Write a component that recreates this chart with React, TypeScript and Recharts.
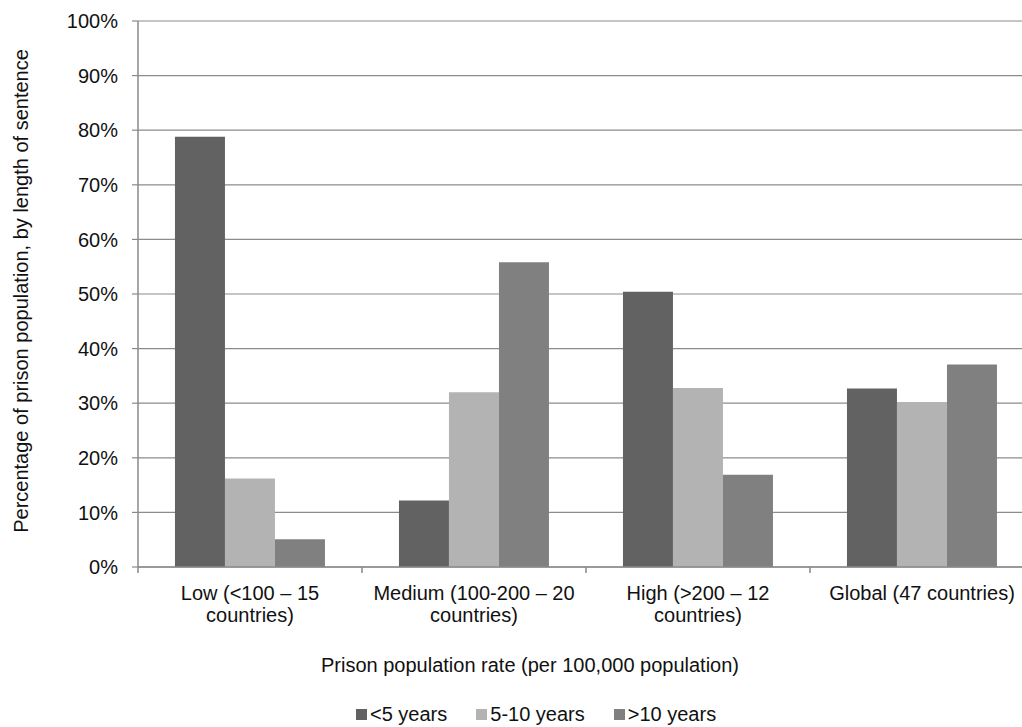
import React from 'react';
import { BarChart, Bar, XAxis, YAxis, CartesianGrid, Legend } from 'recharts';

const categories = ['Low', 'Medium', 'High', 'Global'];
const categoryLabels = [
  ['Low (<100 – 15', 'countries)'],
  ['Medium (100-200 – 20', 'countries)'],
  ['High (>200 – 12', 'countries)'],
  ['Global (47 countries)'],
];
const under5 = [78.8, 12.2, 50.4, 32.7];
const fiveTo10 = [16.2, 32.0, 32.8, 30.2];
const over10 = [5.1, 55.8, 16.9, 37.1];
const yTicks = [0, 10, 20, 30, 40, 50, 60, 70, 80, 90, 100];

const seriesNames = ['<5 years', '5-10 years', '>10 years'];
const seriesColors = ['#626262', '#b3b3b3', '#808080'];

const data = categories.map((c, i) => ({
  name: c,
  under5: under5[i],
  fiveTo10: fiveTo10[i],
  over10: over10[i],
}));

const FONT = '"Liberation Sans", Arial, sans-serif';
const FS = 20;
const W = 1040;
const H = 727;
const M = { top: 21, right: 6, left: 58, bottom: 80 };
const Y_W = 80;
const plotLeft = M.left + Y_W;
const plotW = W - M.right - plotLeft;
const band = plotW / categories.length;

const XTick = ({ x, y, index }: any) => {
  const lines = categoryLabels[index] || [];
  return (
    <g>
      <line x1={x - band / 2} y1={y - 8} x2={x - band / 2} y2={y - 2} stroke="#8a8a8a" strokeWidth={1.5} />
      {lines.map((l, i) => (
        <text key={i} x={x} y={y + 25 + i * 22} textAnchor="middle" fill="#111" fontSize={FS} fontFamily={FONT}>
          {l}
        </text>
      ))}
    </g>
  );
};

const LegendContent = () => (
  <div style={{ position: 'absolute', top: 0, left: 356, display: 'flex', alignItems: 'center', fontFamily: FONT, fontSize: FS, color: '#111', whiteSpace: 'nowrap' }}>
    {seriesNames.map((n, i) => (
      <div key={n} style={{ display: 'flex', alignItems: 'center', marginRight: 29 }}>
        <span style={{ width: 11, height: 11, background: seriesColors[i], marginRight: 3, display: 'inline-block' }} />
        <span>{n}</span>
      </div>
    ))}
  </div>
);

export default function App() {
  return (
    <div style={{ position: 'absolute', left: 0, top: 0, width: 1022, height: 727, overflow: 'hidden', background: '#fff' }}>
      <BarChart width={W} height={H} data={data} margin={M} barGap={0} barCategoryGap="16.5%">
        <CartesianGrid vertical={false} stroke="#8c8c8c" strokeWidth={1.2} />
        <XAxis
          dataKey="name"
          axisLine={{ stroke: '#8a8a8a', strokeWidth: 1.5 }}
          tickLine={false}
          tick={<XTick />}
          interval={0}
          height={60}
          label={() => (
            <text x={530} y={672} textAnchor="middle" fill="#111" fontSize={FS} fontFamily={FONT}>
              Prison population rate (per 100,000 population)
            </text>
          )}
        />
        <YAxis
          width={Y_W}
          domain={[0, 100]}
          ticks={yTicks}
          interval={0}
          tickFormatter={(v: number) => `${v}%`}
          axisLine={{ stroke: '#8a8a8a', strokeWidth: 1.5 }}
          tickLine={{ stroke: '#8a8a8a', strokeWidth: 1.2 }}
          tickSize={6}
          tickMargin={14}
          tick={{ fill: '#111', fontSize: FS, fontFamily: FONT }}
          label={() => (
            <text x={28} y={291} textAnchor="middle" fill="#111" fontSize={FS} fontFamily={FONT} transform="rotate(-90 28 291)">
              Percentage of prison population, by length of sentence
            </text>
          )}
        />
        <Legend content={<LegendContent />} wrapperStyle={{ position: 'absolute', top: 703, left: 0, width: 1022, height: 20 }} />
        <Bar dataKey="under5" name={seriesNames[0]} fill={seriesColors[0]} isAnimationActive={false} />
        <Bar dataKey="fiveTo10" name={seriesNames[1]} fill={seriesColors[1]} isAnimationActive={false} />
        <Bar dataKey="over10" name={seriesNames[2]} fill={seriesColors[2]} isAnimationActive={false} />
      </BarChart>
    </div>
  );
}
